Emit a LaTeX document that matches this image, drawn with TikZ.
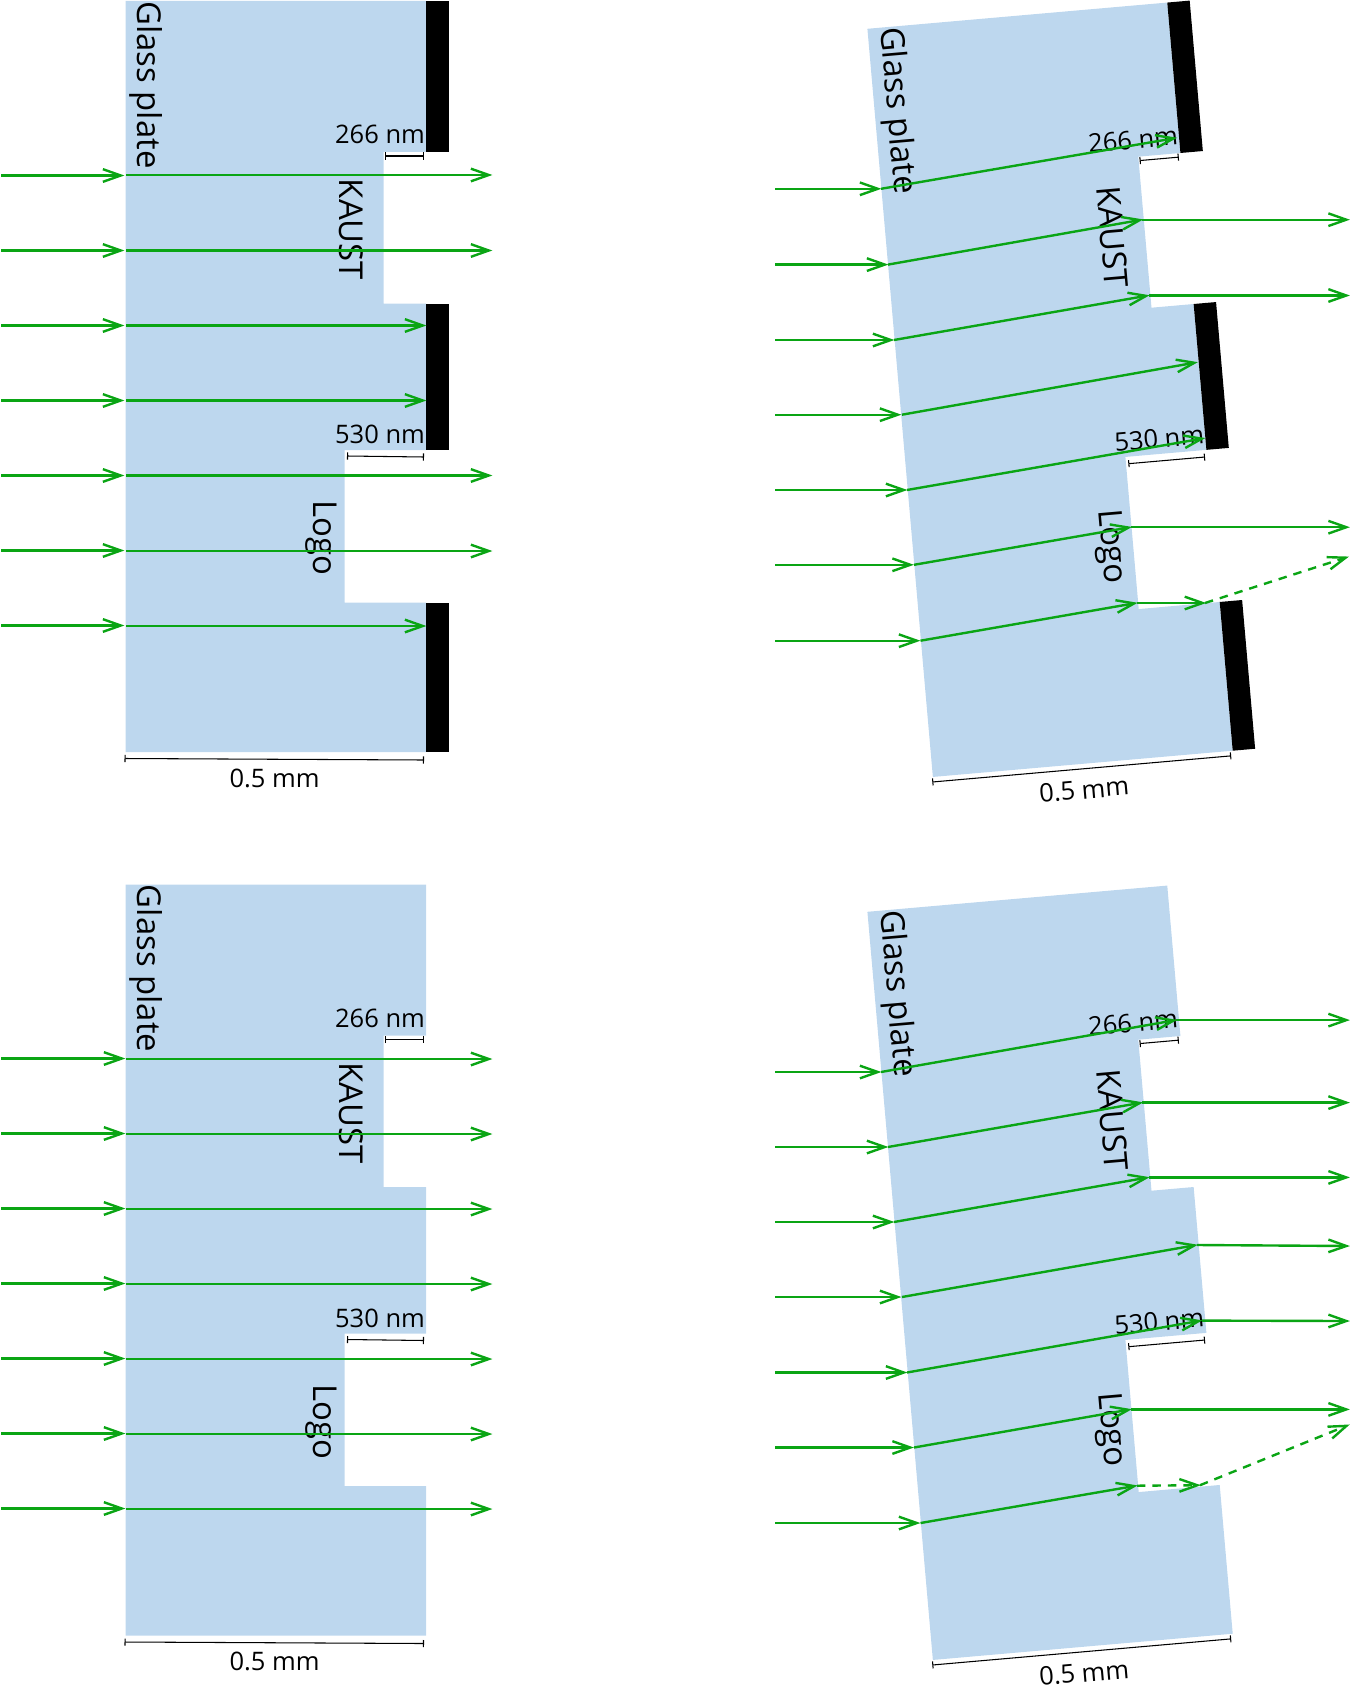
\documentclass[tikz,border=0pt]{standalone}
\usepackage{fontspec}
\setmainfont{Open Sans}
\usetikzlibrary{arrows.meta}
\definecolor{glassblue}{HTML}{BDD7EE}
\definecolor{raygreen}{HTML}{0AA514}
\tikzset{
  glass/.style={fill=glassblue},
  mask/.style={fill=black},
  ray/.style={raygreen, line width=0.68pt, shorten >=-0.4pt, -{Straight Barb[length=5.1pt,width=3.6pt]}},
  dashray/.style={ray, dash pattern=on 2.4pt off 2pt},
  scalebar/.style={black, line width=0.3pt, {Bar[width=2pt]}-{Bar[width=2pt]}},
  smalltext/.style={inner sep=0pt, font=\fontsize{7.25pt}{8pt}\selectfont, transform shape},
  bigtext/.style={inner sep=0pt, rotate=-90, font=\fontsize{9.35pt}{11pt}\selectfont, transform shape}
}
\begin{document}
\begin{tikzpicture}[x=0.01cm, y=-0.01cm]
    \useasboundingbox (0,0) rectangle (1350,1694);

    % top left
    \begin{scope}
        \fill[glass] (125.5,1) -- (426,1) -- (426,152) -- (383.7,152) -- (383.7,303.6) -- (426,303.6) -- (426,450) -- (344.7,450) -- (344.7,602.7) -- (426,602.7) -- (426,752) -- (125.5,752) -- cycle;
        \fill[mask] (426,1) rectangle (448.5,152);
        \fill[mask] (426,303.6) rectangle (448.5,450);
        \fill[mask] (426,602.7) rectangle (448.5,752);
        \draw[scalebar] (384.7,156) -- (424,156);
        \draw[scalebar] (347,456) -- (424,457);
        \draw[scalebar] (124.5,758.5) -- (424,760);
        \node[bigtext] (glassA) at (146.5,85) {Glass plate};
        \node[bigtext] (kaustA) at (351,229.5) {KAUST};
        \node[bigtext] (logoA) at (321.5,538) {Logo};
        \node[smalltext] (widthA) at (380,134.6) {266 nm};
        \node[smalltext] (depthA) at (380,434.5) {530 nm};
        \node[smalltext] (sizeA) at (274.5,778) {0.5 mm};
    \end{scope}

    % top right
    \begin{scope}[shift={(867.4,28.8)}, rotate=5, shift={(-125,-1)}]
        \fill[glass] (125,1) -- (426,1) -- (426,152) -- (383.7,152) -- (383.7,303.6) -- (426,303.6) -- (426,450) -- (344.7,450) -- (344.7,602.7) -- (426,602.7) -- (426,752) -- (125,752) -- cycle;
        \fill[mask] (426,1) rectangle (448.5,152);
        \fill[mask] (426,303.6) rectangle (448.5,450);
        \fill[mask] (426,602.7) rectangle (448.5,752);
        \draw[scalebar] (384.7,156) -- (424,156);
        \draw[scalebar] (347,457) -- (424,457);
        \draw[scalebar] (124,757) -- (424,757);
        \node[bigtext] (glassB) at (146.5,85) {Glass plate};
        \node[bigtext] (kaustB) at (351,229.5) {KAUST};
        \node[bigtext] (logoB) at (321.5,538) {Logo};
        \node[smalltext] (widthB) at (380,134.6) {266 nm};
        \node[smalltext] (depthB) at (380,434.5) {530 nm};
        \node[smalltext] (sizeB) at (274.5,778) {0.5 mm};
    \end{scope}

    % bottom left
    \begin{scope}[shift={(0,883.5)}]
        \fill[glass] (125.5,1) -- (426,1) -- (426,152) -- (383.7,152) -- (383.7,303.6) -- (426,303.6) -- (426,450) -- (344.7,450) -- (344.7,602.7) -- (426,602.7) -- (426,752) -- (125.5,752) -- cycle;
        \draw[scalebar] (384.7,156) -- (424,156);
        \draw[scalebar] (347,456) -- (424,457);
        \draw[scalebar] (124.5,758.5) -- (424,760);
        \node[bigtext] (glassC) at (146.5,85) {Glass plate};
        \node[bigtext] (kaustC) at (351,229.5) {KAUST};
        \node[bigtext] (logoC) at (321.5,538) {Logo};
        \node[smalltext] (widthC) at (380,134.6) {266 nm};
        \node[smalltext] (depthC) at (380,434.5) {530 nm};
        \node[smalltext] (sizeC) at (274.5,778) {0.5 mm};
    \end{scope}

    % bottom right
    \begin{scope}[shift={(867.4,911.8)}, rotate=5, shift={(-125,-1)}]
        \fill[glass] (125,1) -- (426,1) -- (426,152) -- (383.7,152) -- (383.7,303.6) -- (426,303.6) -- (426,450) -- (344.7,450) -- (344.7,602.7) -- (426,602.7) -- (426,752) -- (125,752) -- cycle;
        \draw[scalebar] (384.7,156) -- (424,156);
        \draw[scalebar] (347,457) -- (424,457);
        \draw[scalebar] (124,757) -- (424,757);
        \node[bigtext] (glassD) at (146.5,85) {Glass plate};
        \node[bigtext] (kaustD) at (351,229.5) {KAUST};
        \node[bigtext] (logoD) at (321.5,538) {Logo};
        \node[smalltext] (widthD) at (380,134.6) {266 nm};
        \node[smalltext] (depthD) at (380,434.5) {530 nm};
        \node[smalltext] (sizeD) at (274.5,778) {0.5 mm};
    \end{scope}

    % rays, top left
    \draw[ray] (1,175.5) -- (123,175.5);
    \draw[ray] (1,250.5) -- (123,250.5);
    \draw[ray] (1,325.5) -- (123,325.5);
    \draw[ray] (1,400.5) -- (123,400.5);
    \draw[ray] (1,475.5) -- (123,475.5);
    \draw[ray] (1,550.5) -- (123,550.5);
    \draw[ray] (1,625.5) -- (123,625.5);
    \draw[ray] (126,175) -- (491,175);
    \draw[ray] (126,250.5) -- (491,250.5);
    \draw[ray] (126,325.5) -- (425,325.5);
    \draw[ray] (126,400.5) -- (425,400.5);
    \draw[ray] (126,475.5) -- (491,475.5);
    \draw[ray] (126,551) -- (491,551);
    \draw[ray] (126,626) -- (425,626);

    % rays, top right
    \draw[ray] (775,188.8) -- (880,188.8);
    \draw[ray] (775,264.6) -- (887,264.6);
    \draw[ray] (775,340) -- (893,340);
    \draw[ray] (775,414.7) -- (900,414.7);
    \draw[ray] (775,490) -- (906,490);
    \draw[ray] (775,564.8) -- (912.5,564.8);
    \draw[ray] (775,640.7) -- (919,640.7);
    \draw[ray] (881,188.8) -- (1175.8,138);
    \draw[ray] (888,264.6) -- (1141.9,219.7);
    \draw[ray] (894,340) -- (1148.3,295.5);
    \draw[ray] (902,414.7) -- (1196.5,362.4);
    \draw[ray] (907,490) -- (1204,438.3);
    \draw[ray] (914,564.8) -- (1130.6,527.2);
    \draw[ray] (920.5,640.7) -- (1136.3,603);
    \draw[ray] (1142,219.7) -- (1348.5,219.7);
    \draw[ray] (1149,295.5) -- (1348.5,295.5);
    \draw[ray] (1131,527.2) -- (1348.5,527.2);
    \draw[ray] (1137,603) -- (1204.8,603);
    \draw[dashray] (1205,603) -- (1347.7,557);

    % rays, bottom left
    \draw[ray] (1,1058.5) -- (124,1058.5);
    \draw[ray] (1,1133.5) -- (124,1133.5);
    \draw[ray] (1,1208.5) -- (124,1208.5);
    \draw[ray] (1,1283.5) -- (124,1283.5);
    \draw[ray] (1,1358.5) -- (124,1358.5);
    \draw[ray] (1,1433.5) -- (124,1433.5);
    \draw[ray] (1,1508.5) -- (124,1508.5);
    \draw[ray] (126,1059) -- (491,1059);
    \draw[ray] (126,1134) -- (491,1134);
    \draw[ray] (126,1209) -- (491,1209);
    \draw[ray] (126,1284) -- (491,1284);
    \draw[ray] (126,1359) -- (491,1359);
    \draw[ray] (126,1434) -- (491,1434);
    \draw[ray] (126,1509) -- (491,1509);

    % rays, bottom right
    \draw[ray] (775,1072) -- (880,1072);
    \draw[ray] (775,1147) -- (887,1147);
    \draw[ray] (775,1222) -- (893,1222);
    \draw[ray] (775,1297) -- (900,1297);
    \draw[ray] (775,1372.5) -- (906,1372.5);
    \draw[ray] (775,1447.5) -- (912.5,1447.5);
    \draw[ray] (775,1523) -- (919,1523);
    \draw[ray] (881,1072) -- (1175.8,1020.1);
    \draw[ray] (888,1147) -- (1141.9,1102.6);
    \draw[ray] (894,1222) -- (1148.3,1177.4);
    \draw[ray] (902,1297) -- (1196.5,1245);
    \draw[ray] (907,1372.5) -- (1201,1320.6);
    \draw[ray] (914,1447.5) -- (1130.6,1409.4);
    \draw[ray] (920.5,1523) -- (1136.3,1485.7);
    \draw[ray] (1176,1020.1) -- (1348.5,1020.1);
    \draw[ray] (1142,1102.6) -- (1348.5,1102.6);
    \draw[ray] (1149,1177.4) -- (1348.5,1177.4);
    \draw[ray] (1197,1245) -- (1348.5,1246);
    \draw[ray] (1202,1320.6) -- (1348.5,1321);
    \draw[ray] (1131,1409.4) -- (1348.5,1409.4);
    \draw[dashray] (1137,1485.7) -- (1199.5,1485.2);
    \draw[dashray] (1200,1485.2) -- (1348.5,1425);
\end{tikzpicture}
\end{document}
